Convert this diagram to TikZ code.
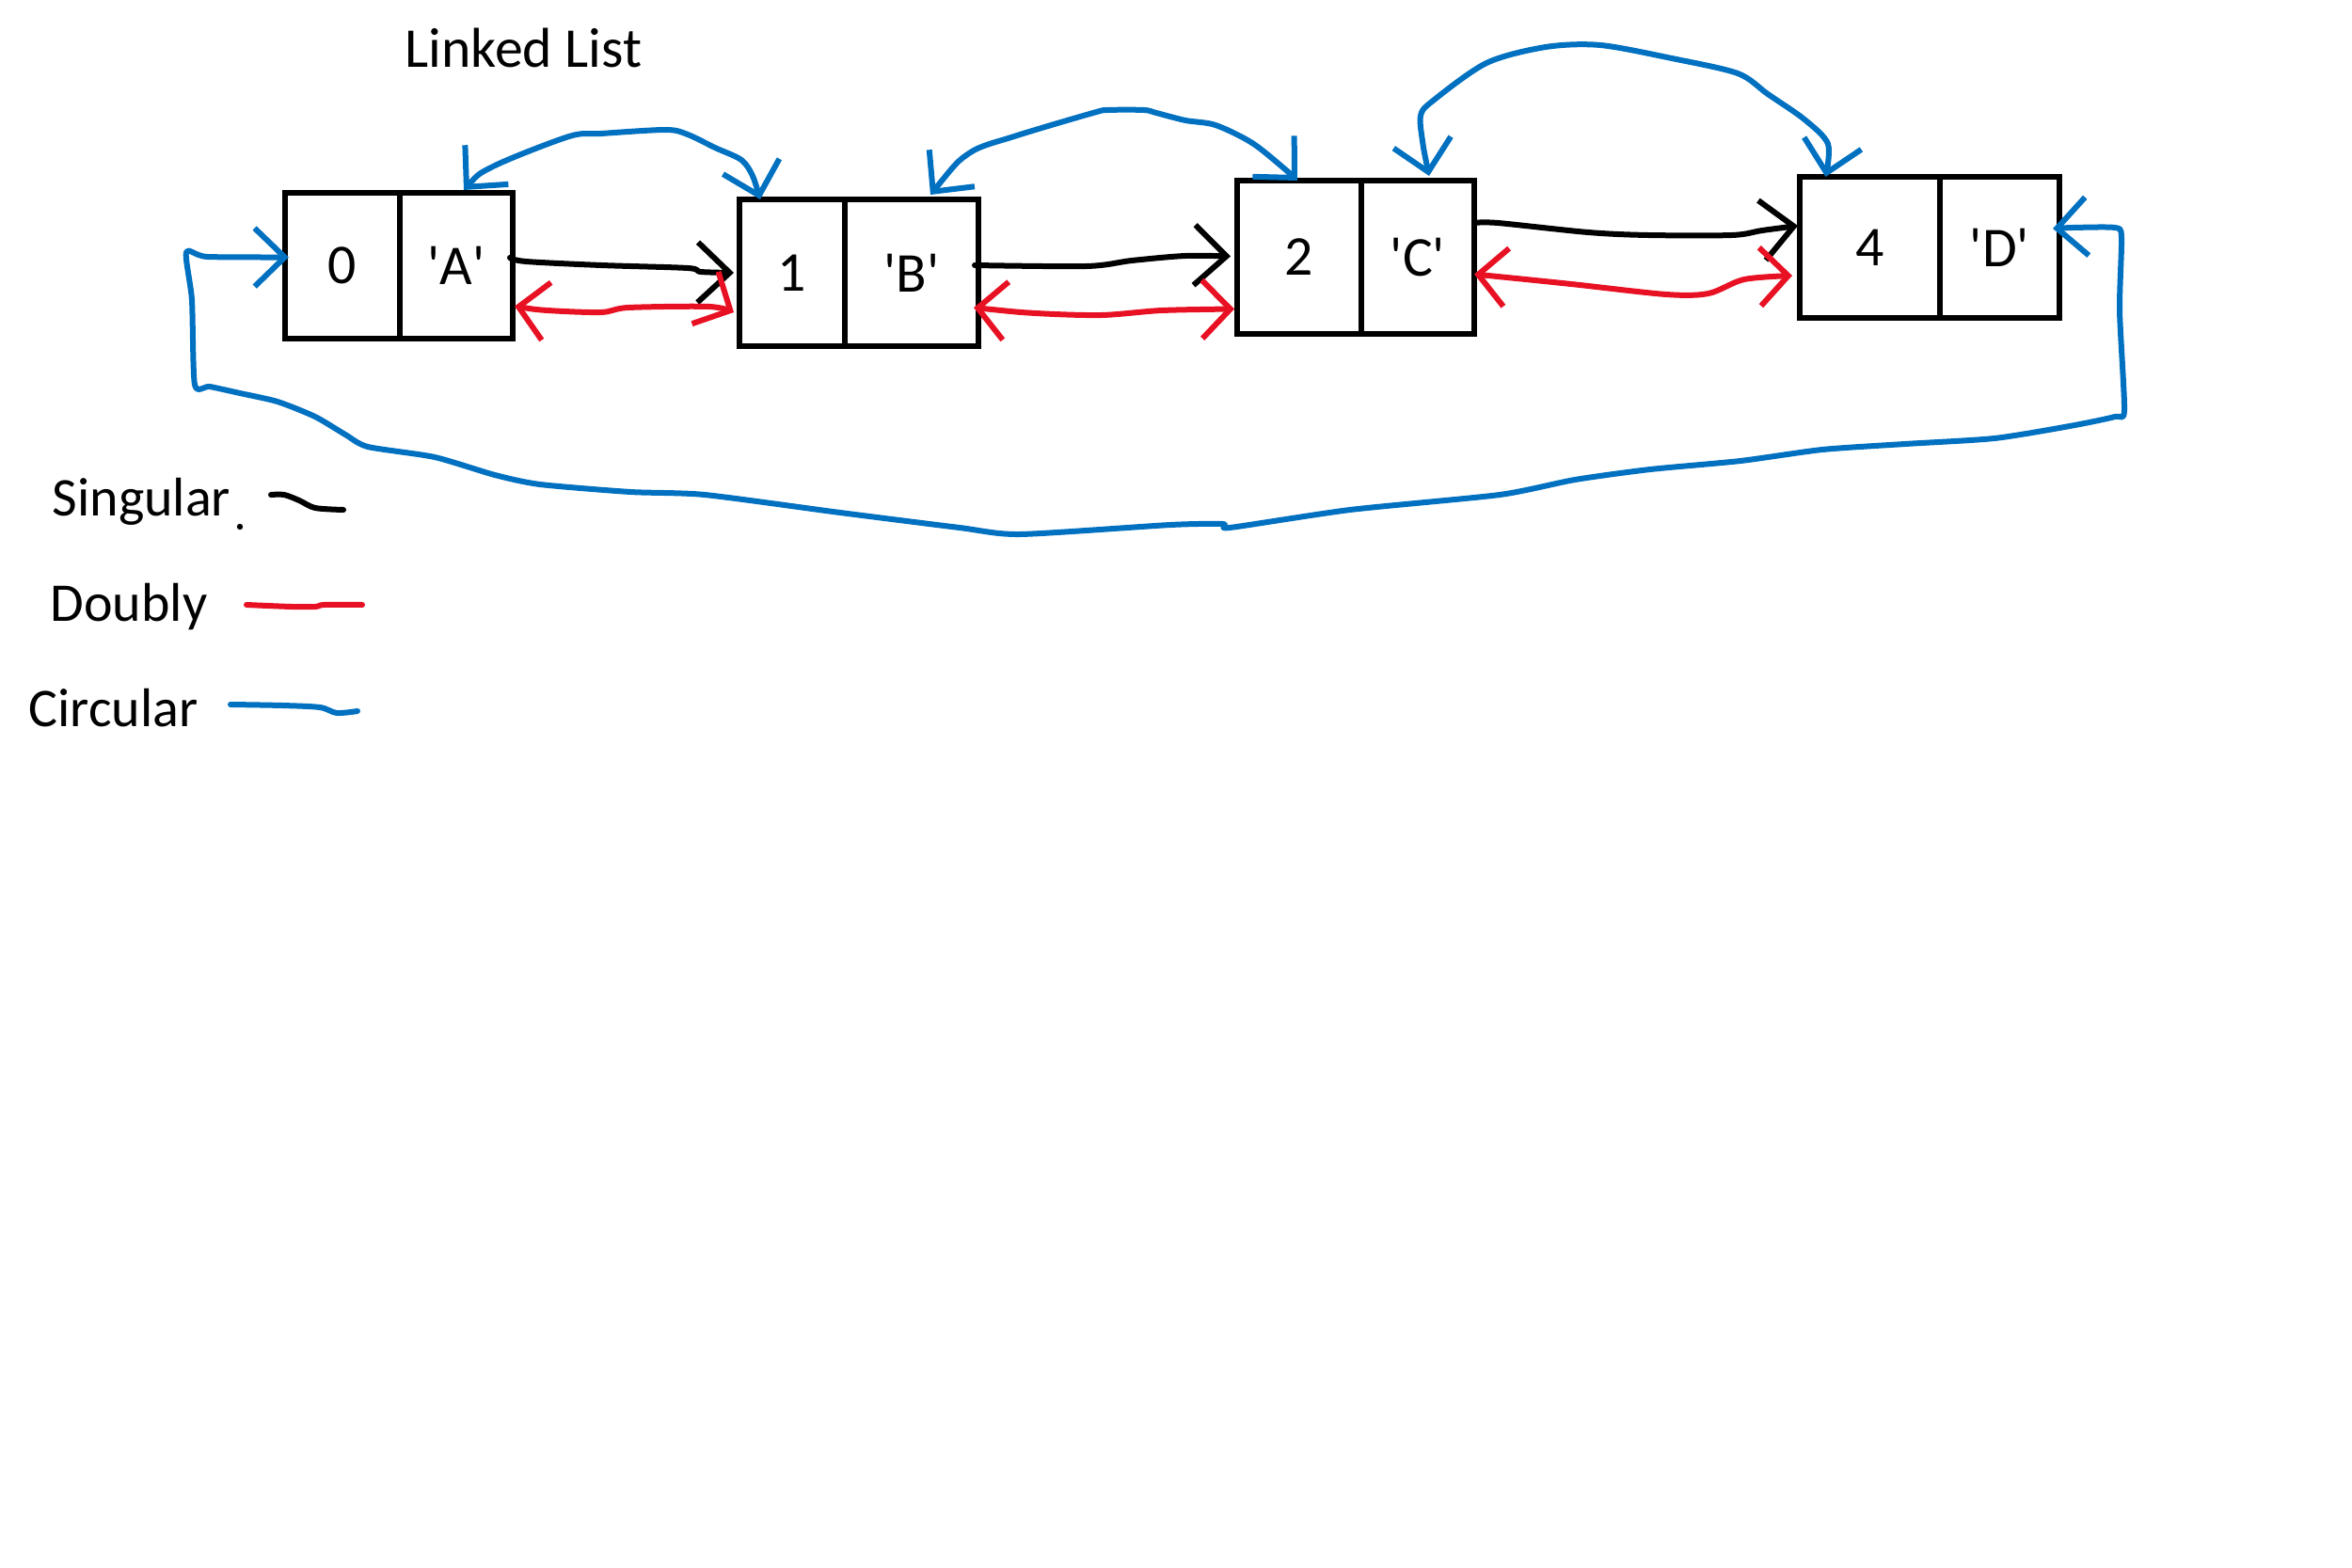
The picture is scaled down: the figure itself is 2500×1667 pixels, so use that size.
\documentclass[tikz,border=0pt]{standalone}
\usepackage{fontspec}
\setmainfont{Carlito}
\usetikzlibrary{arrows.meta}
\definecolor{inkblue}{HTML}{0070C0}
\definecolor{inkred}{HTML}{E81123}
\begin{document}
\begin{tikzpicture}[x=0.1mm,y=-0.1mm,
  cell/.style={draw=black, line width=0.6mm, inner sep=0pt, outer sep=0pt, font=\fontsize{17}{20}\selectfont},
  sing/.style={black, line width=0.6mm, line cap=round, line join=round, -{Straight Barb[length=3.4mm,width=6.4mm]}},
  dbl/.style={inkred, line width=0.6mm, line cap=round, line join=round, {Straight Barb[length=3mm,width=6.2mm]}-{Straight Barb[length=3mm,width=6.2mm]}},
  circ/.style={inkblue, line width=0.6mm, line cap=round, line join=round, {Straight Barb[length=3.2mm,width=6.2mm]}-{Straight Barb[length=3.2mm,width=6.2mm]}},
  legtext/.style={font=\fontsize{16.5}{19}\selectfont, anchor=base west, inner sep=0pt},
  legline/.style={line width=0.6mm, line cap=round, line join=round}
]
\fill[white] (0,0) rectangle (2500,1667);
\useasboundingbox (0,0) rectangle (2500,1667);

% title
\node[font=\fontsize{17}{20}\selectfont, anchor=base west, inner sep=0pt] (title) at (430,72) {Linked List};

% boxes
\node[cell, minimum width=12.2mm, minimum height=15.5mm] (n0) at (364,282.5) {0};
\node[cell, minimum width=12.0mm, minimum height=15.5mm] (v0) at (485,282.5) {\textquotesingle A\textquotesingle};
\node[cell, minimum width=11.2mm, minimum height=15.6mm] (n1) at (842,290) {1};
\node[cell, minimum width=14.2mm, minimum height=15.6mm] (v1) at (969,290) {\textquotesingle B\textquotesingle};
\node[cell, minimum width=13.2mm, minimum height=16.3mm] (n2) at (1381,273.5) {2};
\node[cell, minimum width=12.0mm, minimum height=16.3mm] (v2) at (1507,273.5) {\textquotesingle C\textquotesingle};
\node[cell, minimum width=14.9mm, minimum height=15.0mm] (n4) at (1987.5,263) {4};
\node[cell, minimum width=12.7mm, minimum height=15.0mm] (v4) at (2125.5,263) {\textquotesingle D\textquotesingle};

% singular links
\draw[sing] plot[smooth,tension=0.5] coordinates {([shift={(-3,-8.5)}]v0.east) (559,278) (639,282) (731,285) (745,289) ([shift={(-6,0)}]n1.west)};
\draw[sing] plot[smooth,tension=0.5] coordinates {([shift={(-4,-8)}]v1.east) (1155,283) (1203,277) (1260,272) ([shift={(-7,-1)}]n2.west)};
\draw[sing] plot[smooth,tension=0.5] coordinates {([shift={(0,-36.5)}]v2.east) (1592,237) (1688,247) (1752,250) (1841,250) (1873,245) ([shift={(-2,-23)}]n4.west)};

% doubly links
\draw[dbl] plot[smooth,tension=0.5] coordinates {([shift={(2,43)}]v0.east) (582,330) (639,332) (668,327) (754,326) ([shift={(-6,42)}]n1.west)};
\draw[dbl] plot[smooth,tension=0.5] coordinates {([shift={(-5,37)}]v1.east) (1101,333) (1171,335) (1235,330) ([shift={(-3,55)}]n2.west)};
\draw[dbl] plot[smooth,tension=0.5] coordinates {([shift={(0,18)}]v2.east) (1670,302) (1771,313) (1816,312) (1854,297) ([shift={(-8,30)}]n4.west)};

% circular links
\draw[circ] plot[smooth,tension=0.5] coordinates {([shift={(8,-3)}]v0.north) (524,177) (605,145) (639,142) (708,138) (731,143) (760,157) (788,170) (800,187) ([shift={(-34,0)}]n1.north)};
\draw[circ] plot[smooth,tension=0.5] coordinates {([shift={(20,-5)}]v1.north) (1030,163) (1078,145) (1162,120) (1178,117) (1216,117) (1229,120) (1260,128) (1292,133) (1331,152) (1366,180) ([shift={(-2,0)}]n2.north)};
\draw[circ] plot[smooth,tension=0.5] coordinates {([shift={(12,-5)}]v2.north) (1512,150) (1510,123) (1522,108) (1580,67) (1643,50) (1701,48) (1777,62) (1847,78) (1879,100) (1918,127) (1943,153) ([shift={(-47,0)}]n4.north)};
\draw[circ] plot[smooth,tension=0.4] coordinates {([shift={(-7,-20)}]v4.east) (2203,242) (2248,242) (2255,252) (2253,330) (2258,436) (2248,443) (2200,453) (2120,466) (2025,472) (1937,478) (1850,490) (1754,499) (1674,510) (1594,526) (1435,542) (1307,561) (1300,557) (1244,558) (1084,568) (1020,561) (893,545) (749,526) (670,523) (574,515) (526,505) (462,486) (391,475) (367,462) (335,443) (295,427) (255,418) (223,411) (207,409) (204,319) (198,268) (220,273) ([shift={(4,-9)}]n0.west)};

% legend
\node[legtext] (lsing) at (55,548) {Singular};
\fill (255,560) circle (3.2);
\draw[legline, black] plot[smooth,tension=0.5] coordinates {(288,526) (302,526) (318,532) (335,540) (365,542)};
\node[legtext] (ldbl) at (53,660) {Doubly};
\draw[legline, inkred] plot[smooth,tension=0.5] coordinates {(262,643) (310,645) (335,645) (345,643) (385,643)};
\node[legtext] (lcirc) at (30,772) {Circular};
\draw[legline, inkblue] plot[smooth,tension=0.5] coordinates {(245,749) (300,750) (340,752) (358,758) (380,756)};
\end{tikzpicture}
\end{document}
